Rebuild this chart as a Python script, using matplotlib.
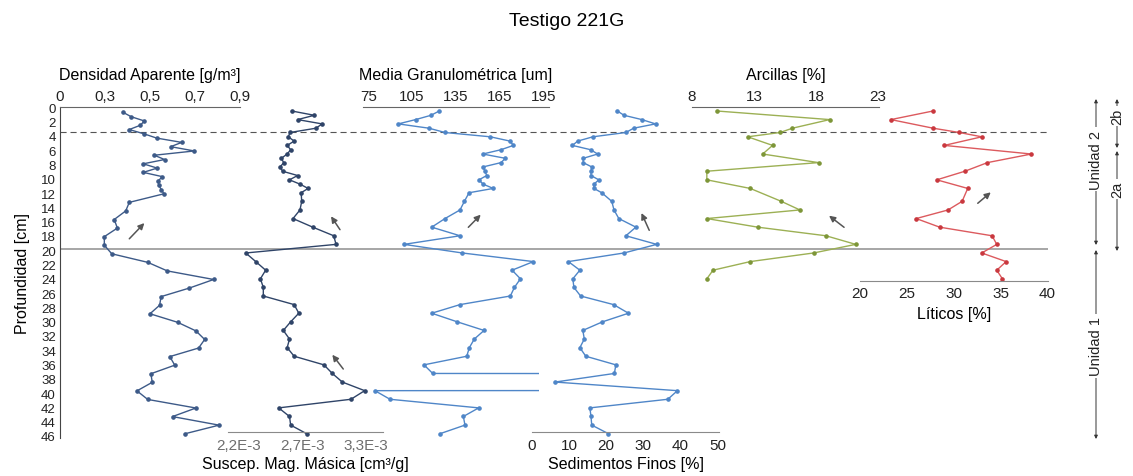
import numpy as np
import matplotlib
matplotlib.use('Agg')
import matplotlib.pyplot as plt
from matplotlib.patches import Rectangle

plt.rcParams['font.family'] = ['Liberation Sans', 'DejaVu Sans']

# sample depths [cm]
depth = [0.7, 1.3, 1.9, 2.5, 3.1, 3.7, 4.3, 4.9, 5.5, 6.1, 6.7, 7.3, 7.9, 8.5, 9.1, 9.7,
         10.3, 10.9, 11.5, 12.1, 13.3, 14.5, 15.7, 16.9, 18.1, 19.3, 20.5, 21.7, 22.9, 24.1,
         25.3, 26.5, 27.7, 28.9, 30.1, 31.3, 32.5, 33.7, 34.9, 36.1, 37.3, 38.5, 39.7, 40.9,
         42.1, 43.3, 44.5, 45.7]
depth_comp = [0.7, 1.9, 3.1, 3.7, 4.3, 5.5, 6.7, 7.9, 9.1, 10.3, 11.5, 13.3, 14.5, 15.7,
              16.9, 18.1, 19.3, 20.5, 21.7, 22.9, 24.1]

densidad = [0.381, 0.416, 0.475, 0.457, 0.408, 0.473, 0.530, 0.641, 0.592, 0.697, 0.519, 0.565,
            0.470, 0.532, 0.470, 0.555, 0.536, 0.539, 0.550, 0.562, 0.408, 0.392, 0.341, 0.355,
            0.297, 0.297, 0.330, 0.490, 0.577, 0.783, 0.675, 0.549, 0.543, 0.500, 0.623, 0.704,
            0.743, 0.716, 0.588, 0.610, 0.504, 0.510, 0.442, 0.490, 0.704, 0.600, 0.807, 0.656]
suscep = np.array([2.659, 2.853, 2.710, 2.920, 2.868, 2.644, 2.630, 2.680, 2.620, 2.650, 2.620,
                   2.570, 2.590, 2.560, 2.580, 2.710, 2.640, 2.730, 2.800, 2.740, 2.745, 2.730,
                   2.670, 2.840, 3.020, 3.040, 2.264, 2.350, 2.435, 2.390, 2.415, 2.415, 2.680,
                   2.720, 2.650, 2.587, 2.640, 2.620, 2.680, 2.936, 3.008, 3.094, 3.286, 3.168,
                   2.547, 2.640, 2.650, 2.787]) * 1e-3
granulo = [123.7, 118.0, 107.5, 95.6, 116.6, 127.6, 158.7, 172.2, 174.5, 166.0, 153.5, 169.0,
           166.0, 153.7, 155.0, 156.2, 150.9, 153.7, 160.7, 144.1, 140.9, 137.9, 127.6, 118.5,
           137.9, 99.5, 139.5, 188.2, 173.6, 179.3, 175.2, 172.4, 137.9, 118.5, 136.0, 154.4,
           147.7, 144.3, 142.5, 113.2, 119.2, 9999.0, 79.6, 89.9, 150.7, 140.2, 141.3, 124.2]
finos = [23.0, 24.8, 29.6, 33.3, 27.4, 25.3, 16.4, 12.3, 10.9, 15.8, 17.7, 13.8, 13.8, 16.1,
         15.9, 15.9, 18.0, 16.7, 16.7, 18.8, 21.5, 22.1, 23.4, 28.0, 25.3, 33.6, 24.8, 9.8,
         12.9, 11.0, 11.3, 13.1, 22.0, 26.0, 19.0, 13.7, 14.1, 12.9, 14.5, 22.6, 22.2, 6.2,
         39.2, 36.6, 15.6, 15.9, 16.1, 20.6]
arcillas = [10.0, 19.1, 16.1, 15.1, 12.5, 14.5, 13.7, 18.2, 9.2, 9.2, 12.7, 15.2, 16.7, 9.2,
            13.3, 18.8, 21.2, 17.8, 12.7, 9.7, 9.2]
liticos = [27.8, 23.3, 27.8, 30.6, 33.0, 29.0, 38.3, 33.6, 31.2, 28.2, 31.5, 30.9, 29.4, 26.0,
           28.5, 34.1, 34.6, 33.0, 35.6, 34.6, 35.2]

depth_ticks = list(range(0, 47, 2))
W, H = 1133, 477
Y_TOP, Y_BOT = 108.4, 439.0
D_TOP, D_BOT = 0.2, 46.3
PX_CM = (Y_BOT - Y_TOP) / (D_BOT - D_TOP)

fig = plt.figure(figsize=(W / 100, H / 100), dpi=100)


def depth_at(ypx):
    return D_TOP + (ypx - Y_TOP) / PX_CM


def new_ax(x0, x1, xlim, y1=Y_BOT):
    ax = fig.add_axes([x0 / W, 1 - y1 / H, (x1 - x0) / W, (y1 - Y_TOP) / H])
    ax.set_facecolor('none')
    ax.set_xlim(*xlim)
    ax.set_ylim(depth_at(y1), D_TOP)
    for s in ax.spines.values():
        s.set_visible(False)
    ax.set_yticks([])
    ax.tick_params(length=0, labelsize=11, colors='#222222')
    return ax


def trend(ax, x0, d0, x1, d1):
    ax.annotate('', xy=(x1, d1), xytext=(x0, d0),
                arrowprops=dict(arrowstyle='-|>', color='#555555', lw=1.1,
                                mutation_scale=9, shrinkA=0, shrinkB=0))


# reference lines across all panels
bg = fig.add_axes([60 / W, 1 - Y_BOT / H, (1048 - 60) / W, (Y_BOT - Y_TOP) / H])
bg.set_xlim(0, 1)
bg.set_ylim(D_BOT, D_TOP)
bg.axis('off')
bg.axhline(3.6, color='#555555', lw=0.8, dashes=(5.5, 3.5))
bg.axhline(20.0, color='#a6a6a6', lw=1.4)

navy = '#3d5a88'
blue = '#4f86c8'
mk = dict(marker='o', ms=2.3, lw=1.0)

# Densidad aparente
ax = new_ax(60, 240, (0.1, 0.9))
ax.plot(densidad, depth, color=navy, **mk)
ax.spines['left'].set_visible(True)
ax.spines['top'].set_visible(True)
ax.spines['left'].set_color('#444444')
ax.spines['top'].set_color('#666666')
ax.set_yticks(depth_ticks)
ax.set_yticklabels([str(d) for d in depth_ticks])
ax.tick_params(axis='y', labelsize=9.5, pad=3)
ax.xaxis.tick_top()
ax.set_xticks([0.1, 0.3, 0.5, 0.7, 0.9])
ax.set_xticklabels(['0', '0,3', '0,5', '0,7', '0,9'])
ax.xaxis.set_label_position('top')
ax.set_xlabel('Densidad Aparente [g/m³]', fontsize=11.5, labelpad=7)
ax.set_ylabel('Profundidad [cm]', fontsize=11.5, labelpad=8)
trend(ax, 0.408, 18.4, 0.475, 16.2)

# Susceptibilidad magnetica masica
ax = new_ax(228, 383, (2.1115e-3, 3.4435e-3), 433.3)
ax.plot(suscep, depth, color='#2f4468', clip_on=False, **mk)
ax.spines['bottom'].set_visible(True)
ax.spines['bottom'].set_color('#8a8a8a')
ax.set_xticks([2.2e-3, 2.75e-3, 3.3e-3])
ax.set_xticklabels(['2,2E-3', '2,7E-3', '3,3E-3'], color='#6e6e6e')
ax.tick_params(axis='x', pad=4)
ax.set_xlabel('Suscep. Mag. Másica [cm³/g]', fontsize=11.5, labelpad=3)
trend(ax, 3.074e-3, 17.25, 2.997e-3, 15.39)
trend(ax, 3.102e-3, 36.68, 3.008e-3, 34.69)

# Media granulometrica
ax = new_ax(362.7, 549, (71.2, 198.9))
ln, = ax.plot(granulo, depth, color=blue, **mk)
ln.set_clip_path(Rectangle((71.2, -5), 192.3 - 71.2, 60, transform=ax.transData))
ax.spines['top'].set_visible(True)
ax.spines['top'].set_color('#666666')
ax.xaxis.tick_top()
ax.set_xticks([75, 105, 135, 165, 195])
ax.xaxis.set_label_position('top')
ax.set_xlabel('Media Granulométrica [um]', fontsize=11.5, labelpad=7)
trend(ax, 143.6, 16.92, 152.1, 15.16)

# Sedimentos finos
ax = new_ax(532, 719, (0, 50.4), 433.3)
ax.plot(finos, depth, color=blue, clip_on=False, **mk)
ax.spines['bottom'].set_visible(True)
ax.spines['bottom'].set_color('#8a8a8a')
ax.set_xticks([0, 10, 20, 30, 40, 50])
ax.tick_params(axis='x', pad=4)
ax.set_xlabel('Sedimentos Finos [%]', fontsize=11.5, labelpad=3)
trend(ax, 31.6, 17.34, 29.5, 14.93)

# Arcillas
ax = new_ax(691.7, 879.3, (7.98, 23.1))
ax.plot(arcillas, depth_comp, color='#9cb054', mfc='#7d9638', mec='#7d9638', **mk)
ax.spines['top'].set_visible(True)
ax.spines['top'].set_color('#666666')
ax.xaxis.tick_top()
ax.set_xticks([8, 13, 18, 23])
ax.xaxis.set_label_position('top')
ax.set_xlabel('Arcillas [%]', fontsize=11.5, labelpad=7)
trend(ax, 20.26, 16.92, 19.05, 15.3)

# Liticos
ax = new_ax(860, 1048, (20, 40.07), 281.7)
ax.plot(liticos, depth_comp, color='#dc5a5e', mfc='#c9383e', mec='#c9383e', **mk)
ax.spines['bottom'].set_visible(True)
ax.spines['bottom'].set_color('#8a8a8a')
ax.set_xticks([20, 25, 30, 35, 40])
ax.tick_params(axis='x', pad=4)
ax.set_xlabel('Líticos [%]', fontsize=11.5, labelpad=4)
trend(ax, 32.57, 13.57, 33.96, 12.04)


# unit brackets on the right
def bracket(x, y0, y1, label, ty):
    bg.annotate('', xy=(x / W, 1 - y0 / H), xytext=(x / W, 1 - y1 / H),
                xycoords='figure fraction', textcoords='figure fraction',
                arrowprops=dict(arrowstyle='<|-|>', color='#333333', lw=0.7,
                                mutation_scale=5, shrinkA=0, shrinkB=0))
    fig.text(x / W, 1 - ty / H, label, rotation=90, ha='center', va='center',
             fontsize=10.5, color='#222222',
             bbox=dict(facecolor='white', edgecolor='none', pad=1.5))


bracket(1096, 100, 246, 'Unidad 2', 160)
bracket(1096, 251, 440, 'Unidad 1', 347)
bracket(1117, 100, 149, '2b', 117)
bracket(1117, 152, 252, '2a', 190)

fig.text(567 / W, 1 - 22 / H, 'Testigo 221G', ha='center', va='center', fontsize=14)

fig.savefig('out.png', dpi=100)
